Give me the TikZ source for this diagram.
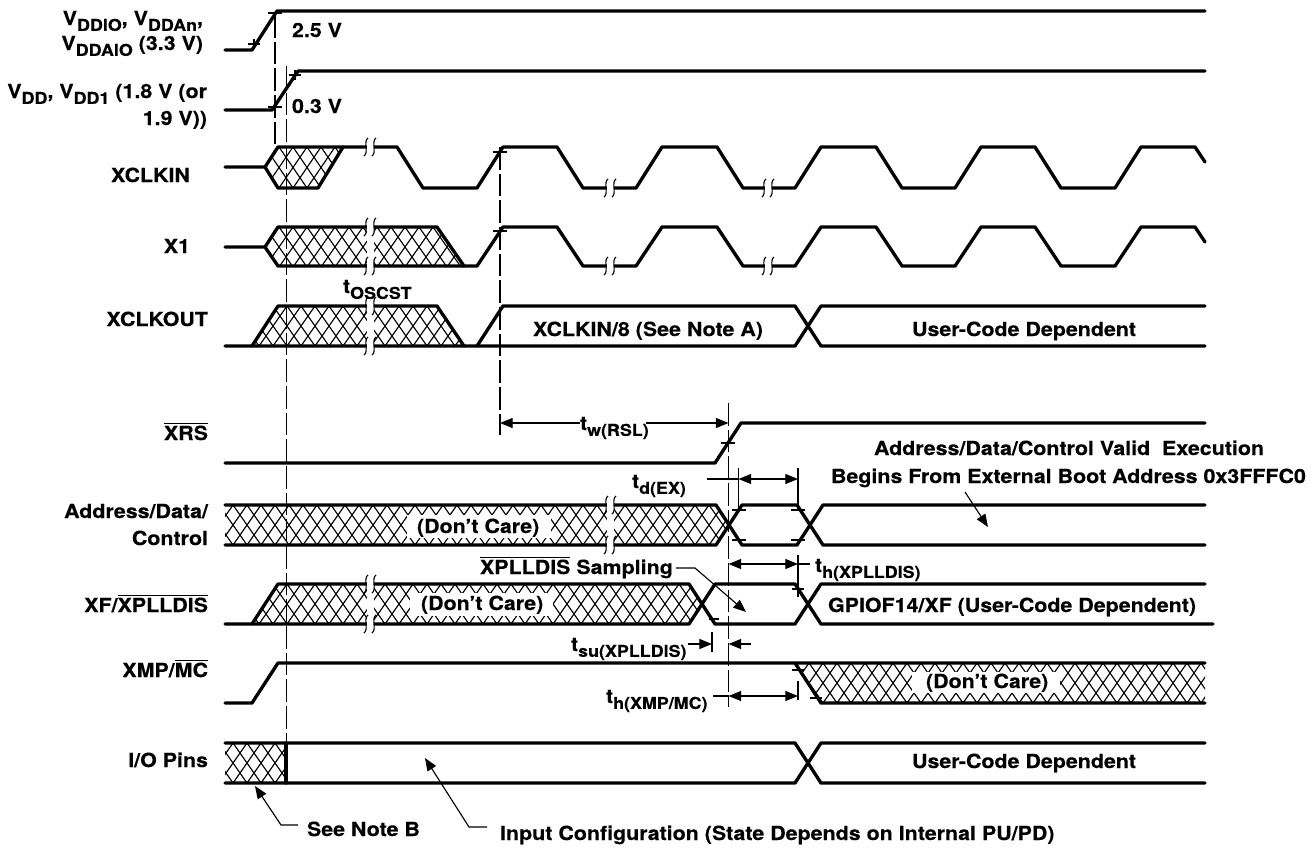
\documentclass[tikz,border=0pt]{standalone}
\usepackage{fontspec}
\setmainfont{TeX Gyre Heros}[BoldFeatures={FakeStretch=1.10,FakeBold=0.25}]
\usetikzlibrary{arrows.meta}
\tikzset{
  sig/.style={line width=2.5pt,line cap=round,line join=round},
  thin line/.style={line width=0.85pt},
  hatchline/.style={line width=0.85pt},
  dashline/.style={line width=0.85pt,dash pattern=on 17pt off 3pt},
  arr/.style={line width=0.85pt,-{Triangle[length=9.5pt,width=7.5pt]}},
  darr/.style={line width=0.85pt,{Triangle[length=9.5pt,width=7.5pt]}-{Triangle[length=9.5pt,width=7.5pt]}},
  lab/.style={inner sep=0pt,outer sep=0pt,font=\fontsize{14.6}{17}\selectfont\bfseries},
  wl/.style={lab,anchor=base west},
  el/.style={lab,anchor=base east},
}
\newcommand\lowsub[1]{\raisebox{-0.3em}{\fontsize{12.2}{12}\selectfont #1}}
\newcommand\barred[1]{$\overline{\mbox{#1}}$}
\newcommand\hatchlines[4]{%
  \pgfmathsetmacro\xa{#1-42}\pgfmathsetmacro\xb{#1-42+14}%
  \foreach \xx in {\xa,\xb,...,#2}{%
    \draw[hatchline] (\xx,#3) -- ++(28,#4-#3);
    \draw[hatchline] (\xx+28,#3) -- ++(-28,#4-#3);
  }}
\newcommand\brk[2]{%
  \fill[white] (#1-3.5,#2-6) rectangle (#1+3.5,#2+6);
  \draw[thin line] (#1-2,#2-9) .. controls (#1-7,#2-6) and (#1-1,#2+6) .. (#1-6,#2+9);
  \draw[thin line] (#1+6,#2-9) .. controls (#1+1,#2-6) and (#1+7,#2+6) .. (#1+2,#2+9);}
\newcommand\tickm[3]{\draw[thin line] (#1-#3,#2) -- (#1+#3,#2) (#1,#2-5) -- (#1,#2+5);}
\newcommand\tickh[3]{\draw[thin line] (#1-#3,#2) -- (#1+#3,#2);}
\begin{document}
\begin{tikzpicture}[x=0.75pt,y=-0.75pt]
\useasboundingbox (0,0) rectangle (1311,847);
\fill[white] (0,0) rectangle (1311,847);
% hatching
\begin{scope}\clip (265,167)--(278,147)--(343,147)--(318,188)--(278,188)--cycle; \hatchlines{265}{345}{147}{188}\end{scope}
\begin{scope}\clip (265,247)--(278,227)--(437,227)--(464,266)--(278,266)--cycle; \hatchlines{265}{465}{227}{267}\end{scope}
\begin{scope}\clip (252,346)--(278,306)--(437,306)--(464,346)--cycle; \hatchlines{259}{465}{306}{346}\end{scope}
\begin{scope}\clip (225,505)--(716,505)--(729,525)--(716,545)--(225,545)--cycle; \hatchlines{233}{730}{505}{545}\end{scope}
\begin{scope}\clip (252,624)--(278,584)--(689,584)--(702,604)--(689,624)--cycle; \hatchlines{259}{705}{584}{624}\end{scope}
\begin{scope}\clip (795,663)--(1205,663)--(1205,703)--(821,703)--cycle; \hatchlines{795}{1206}{663}{703}\end{scope}
\begin{scope}\clip (225,743)--(286,743)--(286,783)--(225,783)--cycle; \hatchlines{233}{290}{743}{783}\end{scope}
% white bands
\fill[white] (366.5,227) rectangle (373.5,266);
\fill[white] (366.5,306) rectangle (373.5,346);
\fill[white] (366.5,584) rectangle (373.5,624);
\fill[white] (606.5,505) rectangle (613.5,545);
\fill[white] (407,515) rectangle (551,538);
\fill[white] (410,593) rectangle (553,616);
\fill[white] (912,672) rectangle (1060,693);
% signals
\draw[sig] (225,50)--(252,50)--(277,11)--(1205,11);
\draw[sig] (225,110)--(272,110)--(298,71)--(1205,71);
\draw[sig] (225,167)--(265,167)--(278,147)--(397,147)--(423,188)--(477,188)--(503,147)--(557,147)--(583,188)--(636,188)--(662,147)--(717,147)--(743,188)--(795,188)--(821,147)--(876,147)--(902,188)--(955,188)--(981,147)--(1035,147)--(1061,188)--(1115,188)--(1141,147)--(1195,147)--(1205,162);
\draw[sig] (265,167)--(278,188)--(318,188)--(343,147);
\draw[sig] (225,247)--(265,247)--(278,227)--(437,227)--(464,266)--(477,266)--(503,227)--(557,227)--(583,266)--(636,266)--(662,227)--(717,227)--(743,266)--(795,266)--(821,227)--(876,227)--(902,266)--(955,266)--(981,227)--(1035,227)--(1061,266)--(1115,266)--(1141,227)--(1195,227)--(1205,242);
\draw[sig] (265,247)--(278,266)--(464,266);
\draw[sig] (252,346)--(278,306)--(437,306)--(464,346);
\draw[sig] (477,346)--(503,306)--(795,306)--(821,346)--(1205,346);
\draw[sig] (225,346)--(795,346)--(821,306)--(1205,306);
\draw[sig] (225,463)--(715,463)--(741,423)--(1205,423);
\draw[sig] (225,505)--(716,505)--(742,545)--(797,545)--(823,505)--(1205,505);
\draw[sig] (225,545)--(716,545)--(742,505)--(797,505)--(823,545)--(1205,545);
\draw[sig] (225,624)--(689,624)--(715,584)--(795,584)--(821,624)--(1213,624);
\draw[sig] (252,624)--(278,584)--(689,584)--(715,624)--(795,624)--(821,584)--(1205,584);
\draw[sig] (225,703)--(252,703)--(278,663)--(1205,663);
\draw[sig] (795,663)--(821,703)--(1205,703);
\draw[sig] (225,743)--(795,743)--(821,783)--(1205,783);
\draw[sig] (225,783)--(795,783)--(821,743)--(1205,743);
\draw[sig] (286,743)--(286,783);
% breaks
\brk{370}{147}\brk{610}{188}\brk{768}{188}
\brk{370}{227}\brk{370}{266}\brk{610}{266}\brk{768}{266}
\brk{370}{306}\brk{370}{346}
\brk{610}{505}\brk{610}{545}
\brk{370}{584}\brk{370}{624}
% dashed references
\draw[dashline] (275,15)--(275,147);
\draw[dashline] (286.5,66)--(286.5,743);
\draw[dashline] (500,147)--(500,435);
\draw[dashline] (728.5,403)--(728.5,707);
% short reference lines
\draw[thin line] (738.5,468)--(738.5,510) (798,468)--(798,510);
\draw[thin line] (798,555)--(798,597) (712,632)--(712,652) (798,681)--(798,700);
% ticks
\tickm{254}{44}{6}\tickh{275}{13}{7}\tickh{275}{107}{7}\tickm{295}{75}{6}
\tickh{500}{152}{7}\tickh{500}{231}{7}\tickh{728}{443}{7}
\tickh{739}{510}{7}\tickh{739}{540}{7}\tickh{798}{510}{7}\tickh{798}{540}{7}
\tickh{714}{619}{5}\tickh{798}{589}{6}\tickh{798}{670}{6}\tickh{816}{698}{6}
% left labels
\node[el] (l1a) at (203,25) {V\lowsub{DDIO}, V\lowsub{DDAn},};
\node[el] (l1b) at (203,50) {V\lowsub{DDAIO} (3.3 V)};
\node[el] (l2a) at (207,98) {V\lowsub{DD}, V\lowsub{DD1} (1.8 V (or};
\node[el] (l2b) at (207,125) {1.9 V))};
\node[el] (l3) at (190,182) {XCLKIN};
\node[el] (l4) at (190,253) {X1};
\node[el] (l5) at (208,326) {XCLKOUT};
\node[el] (l6) at (208,440) {\barred{XRS}};
\node[el] (l7a) at (208,518) {Address/Data/};
\node[el] (l7b) at (208,545) {Control};
\node[el] (l8) at (208,612) {XF/\barred{XPLLDIS}};
\node[el] (l9) at (208,677) {XMP/\barred{MC}};
\node[el] (l10) at (208,767) {I/O Pins};
% inner labels
\node[wl] (v25) at (292,37) {2.5 V};
\node[wl] (v03) at (292,113) {0.3 V};
\node[wl] (tosc) at (343,293) {t\lowsub{OSCST}};
\node[wl] (xdiv) at (533,336) {XCLKIN/8 (See Note A)};
\node[wl] (ucd1) at (912,336) {User-Code Dependent};
\node[wl] (ucd2) at (912,768) {User-Code Dependent};
\node[wl] (twrsl) at (580,430) {t\lowsub{w(RSL)}};
\node[wl] (tdex) at (632,488) {t\lowsub{d(EX)}};
\node[wl] (adr1) at (874,455) {Address/Data/Control Valid\ \ Execution};
\node[wl] (adr2) at (831,483) {Begins From External Boot Address 0x3FFFC0};
\node[wl] (dc1) at (417,533) {(Don’t Care)};
\node[wl] (dc2) at (421,610) {(Don’t Care)};
\node[wl] (dc3) at (926,688) {(Don’t Care)};
\node[wl] (samp) at (480,574) {\barred{XPLLDIS} Sampling};
\node[wl] (thx) at (815,572) {t\lowsub{h(XPLLDIS)}};
\node[wl] (gpio) at (828,612) {GPIOF14/XF (User-Code Dependent)};
\node[wl] (tsu) at (571,651) {t\lowsub{su(XPLLDIS)}};
\node[wl] (thm) at (606,703) {t\lowsub{h(XMP/MC)}};
\node[wl] (nb) at (307,836) {See Note B};
\node[wl] (inp) at (500,840) {Input Configuration (State Depends on Internal PU/PD)};
% dimension arrows
\coordinate (a1) at (500,423); \coordinate (a2) at (728.5,423);
\draw[arr] (twrsl.west |- a1) -- (a1);
\draw[arr] (646,423) -- (a2);
\draw[thin line] (707,479) -- (738.5,479);
\draw[darr] (738.5,479) -- (798,479);
\draw[darr] (728.5,564) -- (798,564);
\draw[thin line] (798,564) -- (810,564);
\draw[arr] (688,644) -- (712,644);
\draw[arr] (751,644) -- (728.5,644);
\draw[thin line] (713,696) -- (728.5,696);
\draw[darr] (728.5,696) -- (798,696);
% leaders
\draw[arr] (676,568) -- (695,568) -- (746,612);
\draw[arr] (965,492) -- (988,527);
\draw[arr] (298,825) -- (281,825) -- (255,786);
\draw[arr] (487,827) -- (469,827) -- (425,758);
\end{tikzpicture}
\end{document}
